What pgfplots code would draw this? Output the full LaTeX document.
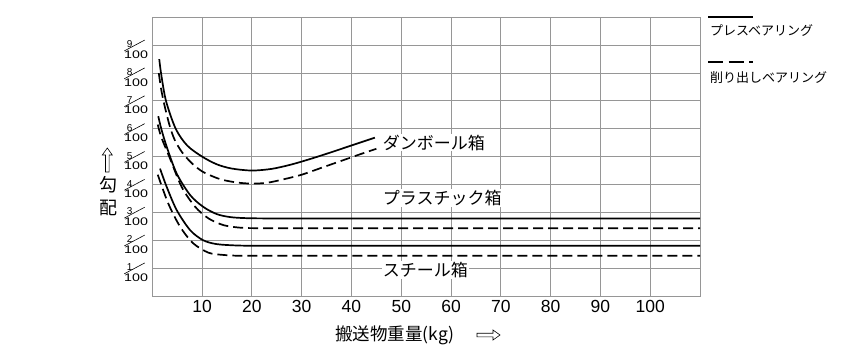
\documentclass[border=0pt]{standalone}
\usepackage{fontspec}
\setmainfont{Liberation Sans}
\newfontfamily\lib{Liberation Sans}
\newfontfamily\jp{Noto Sans CJK JP}
\usepackage{pgfplots}
\pgfplotsset{compat=1.18}
\definecolor{gridc}{RGB}{150,150,150}
\newcommand{\fr}[1]{%
 \makebox[23.9pt][l]{\lib
  \rlap{\fontsize{11}{11}\selectfont\scalebox{1.3}[1]{100}}%
  \rlap{\kern2.6pt\raisebox{10.4pt}{\fontsize{10}{10}\selectfont #1}}%
  \rlap{\raisebox{7pt}{\rotatebox{28}{\rule{23pt}{0.6pt}}}}%
 }}
\begin{document}
\begin{tikzpicture}
\path[use as bounding box] (-152.3pt,-64.1pt) rectangle (697.7pt,295.9pt);
\begin{axis}[name=ax, at={(0pt,0pt)}, anchor=south west,
  scale only axis, width=547.7pt, height=278.6pt,
  xmin=0, xmax=110, ymin=0, ymax=10,
  xtick={10,20,...,100}, ytick={1,2,...,9},
  yticklabels={{\fr{1}},{\fr{2}},{\fr{3}},{\fr{4}},{\fr{5}},{\fr{6}},{\fr{7}},{\fr{8}},{\fr{9}}},
  /pgf/number format/assume math mode=true,
  grid=major, major grid style={draw=gridc, line width=0.8pt},
  axis line style={draw=gridc, line width=0.8pt},
  major tick length=0pt, tick style={draw=none},
  xticklabel style={font=\lib\fontsize{17.5}{17.5}\selectfont, inner sep=0pt, anchor=north, yshift=-4pt},
  yticklabel style={inner sep=0pt, anchor=base east, yshift=-13pt, xshift=-4pt},
]
% cardboard box, pressed bearing
\addplot[black, line width=1.7pt, smooth, tension=0.5] coordinates {
(1.4,8.5) (1.75,8.0) (2.75,7.0) (4.7,6.0) (7,5.4) (10,5.0) (13,4.72) (16,4.57) (20,4.5) (24,4.56) (28,4.72) (32,4.93) (36,5.16) (40,5.4) (44.7,5.68)};
% cardboard box, machined bearing
\addplot[black, line width=1.7pt, dash pattern=on 10pt off 5pt, smooth, tension=0.5] coordinates {
(1.3,8.0) (1.8,7.4) (2.5,6.8) (3.5,6.1) (4.5,5.6) (6,5.15) (8,4.75) (10,4.47) (12,4.3) (14,4.17) (17,4.07) (20,4.03) (23,4.06) (26,4.17) (30,4.35) (34,4.6) (38,4.85) (42,5.1) (45,5.28)};
% plastic box, pressed bearing
\addplot[black, line width=1.7pt, smooth, tension=0.5] coordinates {
(1.2,6.45) (1.8,6.0) (2.9,5.35) (4.9,4.39) (7.6,3.62) (10.2,3.2) (12.9,2.94) (15.6,2.83) (19,2.79) (25,2.78) (40,2.78) (110,2.78)};
% plastic box, machined bearing
\addplot[black, line width=1.7pt, dash pattern=on 10pt off 5pt, smooth, tension=0.5] coordinates {
(1.1,6.15) (1.8,5.7) (3.56,4.93) (5.9,3.91) (8.6,3.2) (11.3,2.78) (14.3,2.54) (17.6,2.45) (22,2.43) (40,2.43) (110,2.43)};
% steel box, pressed bearing
\addplot[black, line width=1.7pt, smooth, tension=0.5] coordinates {
(1.55,4.57) (2.9,3.91) (4.9,3.08) (7.6,2.36) (10.2,2.0) (12.9,1.86) (17,1.81) (22,1.8) (40,1.8) (110,1.8)};
% steel box, machined bearing
\addplot[black, line width=1.7pt, dash pattern=on 10pt off 5pt, smooth, tension=0.5] coordinates {
(1.1,4.35) (3.2,3.32) (5.6,2.48) (8.2,1.89) (11.3,1.55) (14.3,1.47) (17.5,1.44) (22,1.44) (40,1.44) (110,1.44)};
\end{axis}
% curve labels
\node[anchor=west, inner sep=1pt, fill=white, font=\jp\fontsize{17}{17}\selectfont] at (229.4pt,153.4pt) {ダンボール箱};
\node[anchor=west, inner sep=1pt, fill=white, font=\jp\fontsize{17}{17}\selectfont] at (229.4pt,97.9pt) {プラスチック箱};
\node[anchor=west, inner sep=1pt, fill=white, font=\jp\fontsize{17}{17}\selectfont] at (229.4pt,25.9pt) {スチール箱};
% x label
\node[anchor=west, inner sep=0pt, font=\jp\fontsize{17.5}{17.5}\selectfont] at (182.7pt,-39.6pt) {搬送物重量(kg)};
\draw[line width=0.6pt, fill=white] (324.7pt,-37.3pt) -- (340.7pt,-37.3pt) -- (340.7pt,-34.1pt) -- (347.7pt,-39.1pt) -- (340.7pt,-44.1pt) -- (340.7pt,-40.9pt) -- (324.7pt,-40.9pt) -- cycle;
% y label
\draw[line width=0.6pt, fill=white] (-46.8pt,123.9pt) -- (-46.8pt,140.9pt) -- (-50pt,140.9pt) -- (-45pt,147.9pt) -- (-40pt,140.9pt) -- (-43.2pt,140.9pt) -- (-43.2pt,123.9pt) -- cycle;
\node[inner sep=0pt, font=\jp\fontsize{18}{18}\selectfont] at (-44pt,110.9pt) {勾};
\node[inner sep=0pt, font=\jp\fontsize{18}{18}\selectfont] at (-44pt,87.6pt) {配};
% legend
\draw[black, line width=2pt] (555.7pt,278.6pt) -- (600.7pt,278.6pt);
\node[anchor=west, inner sep=0pt, font=\jp\fontsize{13}{13}\selectfont] at (557.5pt,265.4pt) {プレスベアリング};
\draw[black, line width=2pt, dash pattern=on 15pt off 5.5pt] (555.7pt,234.2pt) -- (600.7pt,234.2pt);
\node[anchor=west, inner sep=0pt, font=\jp\fontsize{13}{13}\selectfont] at (557.5pt,217.9pt) {削り出しベアリング};
\end{tikzpicture}
\end{document}
